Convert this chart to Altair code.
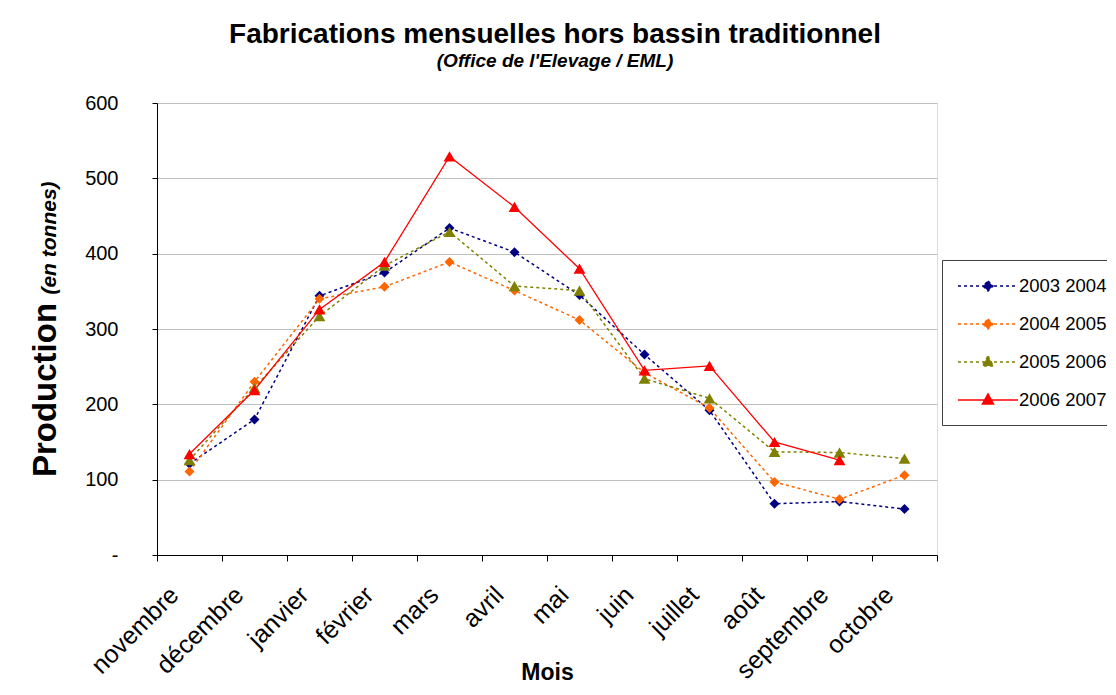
import altair as alt
import pandas as pd

months = ["novembre", "décembre", "janvier", "février", "mars", "avril",
          "mai", "juin", "juillet", "août", "septembre", "octobre"]
series_names = ["2003 2004", "2004 2005", "2005 2006", "2006 2007"]

s_2003_2004 = [121, 180, 344, 375, 434, 402, 345, 266, 192, 68, 71, 61]
s_2004_2005 = [111, 230, 340, 356, 389, 351, 312, 242, 195, 97, 74, 106]
s_2005_2006 = [126, 222, 317, 384, 429, 357, 351, 234, 208, 137, 136, 128]
s_2006_2007 = [134, 219, 326, 389, 529, 462, 380, 245, 251, 150, 126, None]

y_ticks = [0, 100, 200, 300, 400, 500, 600]
colors = ["#000080", "#FF6600", "#808000", "#FF0000"]
dashes = [[3, 3], [3, 3], [3, 3], [1, 0]]
legend_paths = [
    "M-1,0H5M2,-0.5L2.5,0L2,0.5L1.5,0Z",
    "M-1,0H5M2,-0.5L2.5,0L2,0.5L1.5,0Z",
    "M-1,0H5M2,-0.6L2.55,0.4L1.45,0.4Z",
    "M-1,0H5M2,-0.6L2.55,0.4L1.45,0.4Z",
]

rows = []
for name, vals in zip(series_names, [s_2003_2004, s_2004_2005, s_2005_2006, s_2006_2007]):
    for m, v in zip(months, vals):
        if v is not None:
            rows.append({"mois": m, "serie": name, "valeur": v})
df = pd.DataFrame(rows)

FONT = "Liberation Sans"

x_enc = alt.X(
    "mois:N", sort=months, bandPosition=0.5,
    scale=alt.Scale(type="band", paddingInner=0, paddingOuter=0),
    axis=alt.Axis(title="Mois", labelAngle=-45, labelFontSize=25, labelFont=FONT,
                  labelColor="black", labelPadding=21, labelOffset=-24, tickBand="extent", tickSize=6,
                  tickColor="black", domainColor="black", grid=False,
                  titleFont=FONT, titleFontSize=23, titleFontWeight="bold",
                  titleColor="black", titleBaseline="alphabetic", titleY=124),
)
y_enc = alt.Y(
    "valeur:Q", scale=alt.Scale(domain=[0, 600]),
    axis=alt.Axis(title=None, values=y_ticks,
                  labelExpr="datum.value == 0 ? '-' : datum.label",
                  labelFontSize=20, labelFont=FONT, labelColor="black",
                  labelPadding=34, tickSize=5, tickColor="black",
                  domainColor="black", gridColor="#c0c0c0", gridWidth=1),
)
# reversed order for the (legend-less) colour scale so its domain differs from the legend scales
color_enc = alt.Color("serie:N", scale=alt.Scale(domain=series_names[::-1], range=colors[::-1]),
                      legend=None)

base = alt.Chart(df).encode(x=x_enc, y=y_enc, color=color_enc)

dotted = base.transform_filter(alt.FieldOneOfPredicate(field="serie", oneOf=series_names[:3])) \
    .mark_line(strokeWidth=1.5, strokeDash=[3, 3])
solid = base.transform_filter(alt.FieldEqualPredicate(field="serie", equal=series_names[3])) \
    .mark_line(strokeWidth=1.3)
diamonds = base.transform_filter(alt.FieldOneOfPredicate(field="serie", oneOf=series_names[:2])) \
    .mark_point(filled=True, shape="diamond", size=100, opacity=1)
triangles = base.transform_filter(alt.FieldOneOfPredicate(field="serie", oneOf=series_names[2:])) \
    .mark_point(filled=True, shape="triangle-up", size=140, opacity=1)

leg = alt.Legend(title=None, orient="none", legendX=785, legendY=157, padding=15,
                 strokeColor="#404040", fillColor="white", rowPadding=17,
                 labelOffset=40, labelFontSize=18.5, labelFont=FONT, labelColor="black",
                 labelLimit=300, symbolSize=400, symbolStrokeWidth=1.5, symbolOpacity=1)
legend_layer = alt.Chart(df).mark_point(
    filled=True, size=1, opacity=0, strokeWidth=1.5
).encode(
    fill=alt.Fill("serie:N", scale=alt.Scale(domain=series_names, range=colors), legend=leg),
    stroke=alt.Stroke("serie:N", scale=alt.Scale(domain=series_names, range=colors), legend=leg),
    shape=alt.Shape("serie:N", scale=alt.Scale(domain=series_names, range=legend_paths), legend=leg),
    strokeDash=alt.StrokeDash("serie:N", scale=alt.Scale(domain=series_names, range=dashes), legend=leg),
)

ytitle1 = alt.Chart(pd.DataFrame({"t": ["Production"]})).mark_text(
    angle=270, align="center", baseline="alphabetic", font=FONT, fontSize=33,
    fontWeight="bold", color="black"
).encode(x=alt.value(-101), y=alt.value(287), text="t:N")
ytitle2 = alt.Chart(pd.DataFrame({"t": ["(en tonnes)"]})).mark_text(
    angle=270, align="center", baseline="alphabetic", font=FONT, fontSize=21,
    fontWeight="bold", fontStyle="italic", color="black"
).encode(x=alt.value(-101), y=alt.value(135), text="t:N")

chart = alt.layer(dotted, solid, diamonds, triangles, legend_layer, ytitle1, ytitle2).properties(
    width=780, height=452,
    title=alt.Title(text="Fabrications mensuelles hors bassin traditionnel",
                    subtitle="(Office de l'Elevage / EML)",
                    font=FONT, fontSize=28, fontWeight="bold", color="black",
                    subtitleFont=FONT, subtitleFontSize=19, subtitleFontWeight="bold",
                    subtitleFontStyle="italic", subtitleColor="black",
                    anchor="middle", offset=22, subtitlePadding=3, dx=8),
    autosize=alt.AutoSizeParams(type="none"),
    padding={"left": 149, "top": 95, "right": 170, "bottom": 128},
).configure_view(stroke="#808080", strokeWidth=1).configure(background="white")

chart.save("out.html", embed_options={"renderer": "svg", "actions": False})
